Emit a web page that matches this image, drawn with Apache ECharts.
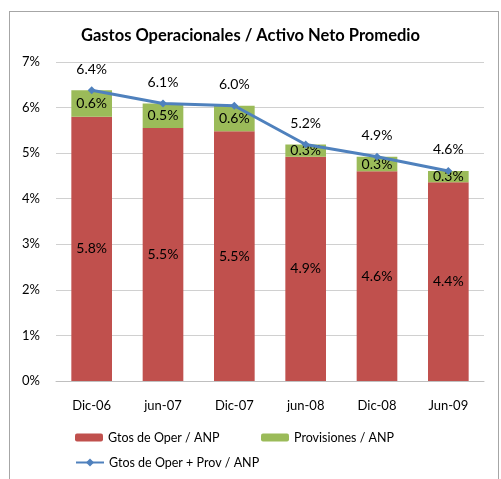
<!DOCTYPE html>
<html>
<head>
<meta charset="utf-8">
<script src="https://cdn.jsdelivr.net/npm/echarts@6/dist/echarts.min.js"></script>
<style>
    html, body { margin: 0; padding: 0; background: #fff; }
    #frame {
        position: absolute; left: 9px; top: 11px; width: 490px; height: 470px;
        border: 1px solid #a6a6a6; box-sizing: border-box;
    }
    #chart { position: absolute; left: 0; top: 0; width: 501px; height: 479px; }
</style>
</head>
<body>
<div id="frame"></div>
<div id="chart"></div>
<script>
// datos
const categories = ['Dic-06', 'jun-07', 'Dic-07', 'jun-08', 'Dic-08', 'Jun-09'];
const gtosOper = [5.8, 5.55, 5.48, 4.92, 4.6, 4.36];
const provisiones = [0.58, 0.54, 0.56, 0.27, 0.32, 0.25];
const gtosTotal = [6.38, 6.09, 6.04, 5.19, 4.92, 4.61];
const yTicks = [0, 1, 2, 3, 4, 5, 6, 7];

const FONT = 'Lato';
const pct = (p) => p.value.toFixed(1) + '%';

const myChart = echarts.init(document.getElementById('chart'));

const option = {
    backgroundColor: 'transparent',
    textStyle: { fontFamily: FONT, color: '#000' },
    title: {
        text: 'Gastos Operacionales / Activo Neto Promedio',
        left: 'center',
        top: 22,
        textStyle: { fontFamily: FONT, fontSize: 16.5, fontWeight: 'bold', color: '#000' }
    },
    legend: [
        {
            left: 70, top: 426, itemWidth: 28, itemHeight: 8,
            data: ['Gtos de Oper / ANP'],
            textStyle: { fontFamily: FONT, fontSize: 12.5, color: '#000' }
        },
        {
            left: 256, top: 426, itemWidth: 28, itemHeight: 8,
            data: ['Provisiones / ANP'],
            textStyle: { fontFamily: FONT, fontSize: 12.5, color: '#000' }
        },
        {
            left: 70, top: 451, itemWidth: 28, itemHeight: 10,
            data: ['Gtos de Oper + Prov / ANP'],
            textStyle: { fontFamily: FONT, fontSize: 12.5, color: '#000' }
        }
    ],
    grid: { left: 56, right: 17, top: 62, bottom: 98 },
    xAxis: {
        type: 'category',
        data: categories,
        axisTick: { show: false },
        axisLine: { lineStyle: { color: '#bfbfbf' } },
        axisLabel: { margin: 18, fontFamily: FONT, fontSize: 13, color: '#000' }
    },
    yAxis: {
        type: 'value',
        min: yTicks[0],
        max: yTicks[yTicks.length - 1],
        interval: 1,
        axisLabel: { formatter: '{value}%', margin: 16, fontFamily: FONT, fontSize: 13, color: '#000' },
        splitLine: { lineStyle: { color: '#d0d0d0' } }
    },
    series: [
        {
            name: 'Gtos de Oper / ANP',
            type: 'bar',
            stack: 'total',
            barWidth: '57%',
            itemStyle: { color: '#C0504D' },
            label: { show: true, position: 'inside', formatter: pct, fontFamily: FONT, fontSize: 14, color: '#000' },
            data: gtosOper
        },
        {
            name: 'Provisiones / ANP',
            type: 'bar',
            stack: 'total',
            itemStyle: { color: '#9BBB59' },
            label: { show: true, position: 'inside', formatter: pct, fontFamily: FONT, fontSize: 14, color: '#000' },
            data: provisiones
        },
        {
            name: 'Gtos de Oper + Prov / ANP',
            type: 'line',
            symbol: 'diamond',
            symbolSize: 8,
            z: 5,
            itemStyle: { color: '#4F81BD' },
            lineStyle: { color: '#4F81BD', width: 3 },
            label: { show: true, position: 'top', distance: 10, formatter: pct, fontFamily: FONT, fontSize: 14, color: '#000' },
            data: gtosTotal
        }
    ]
};

option && myChart.setOption(option);
</script>
</body>
</html>
